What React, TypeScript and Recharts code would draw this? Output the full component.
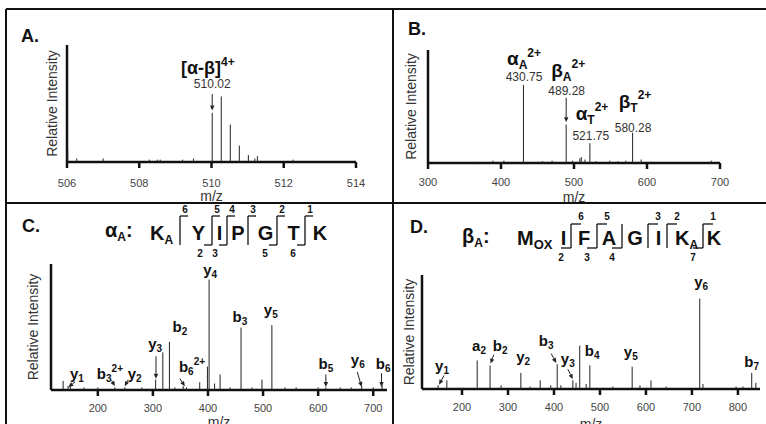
import React from 'react';
import { ComposedChart, Scatter, XAxis, YAxis, ReferenceLine } from 'recharts';

const FONT = '"Liberation Sans", Arial, Helvetica, sans-serif';

// A. precursor isotope envelope
const aMz = [506.02, 506.27, 507.0, 508.28, 508.5, 508.58, 509.2, 509.5, 510.02, 510.27, 510.52, 510.77, 511.02, 511.2, 511.27, 512.26];
const aInt = [10, 3, 3, 2, 2, 2, 2, 3, 42, 56, 32, 14, 6, 3, 5, 2];
const aTicks = [506, 508, 510, 512, 514];

// B. MS3 survey
const bMz = [370, 389, 404, 430.75, 450, 457, 470, 489.28, 498, 508, 510, 515, 521.75, 530, 549, 560, 571, 580.28, 592, 604, 688];
const bInt = [1, 2, 2, 67, 1, 1.5, 2, 33, 2, 4, 5, 3, 17, 1.5, 2, 1.5, 2, 26, 3, 1, 2];
const bTicks = [300, 400, 500, 600, 700];
const bLabelMain = ['α', 'β', 'α', 'β'];
const bLabelSub = ['A', 'A', 'T', 'T'];
const bLabelMz = [431.5, 492, 524.7, 583.6];
const bLabelAt = [84, 74, 37, 47.4];
const bMassText = ['430.75', '489.28', '521.75', '580.28'];
const bMassMz = [431.5, 490, 523, 581];
const bMassAt = [70, 58.6, 20, 26.7];

// C. alpha_A fragments
const cMz = [137, 146, 150, 175, 200, 231, 249, 280, 305, 318, 330, 340, 355, 361, 385, 399, 402, 412, 422, 440, 460, 480, 498, 516, 540, 560, 600, 614, 640, 660, 679, 700, 716];
const cInt = [7, 3, 4, 2, 2, 2, 2, 2, 8, 29, 37, 2, 3, 2, 6, 18, 85, 5, 12, 2, 48, 2, 8, 50, 2, 2, 2, 2, 2, 2, 3, 2, 4];
const cTicks = [200, 300, 400, 500, 600, 700];
const cIon = ['y', 'b', 'y', 'y', 'b', 'b', 'y', 'b', 'y', 'b', 'y', 'b'];
const cIonSub = ['1', '3', '2', '3', '2', '6', '4', '3', '5', '5', '6', '6'];
const cIonSup = ['', '2+', '', '', '', '2+', '', '', '', '', '', ''];
const cIonMz = [162, 222, 267, 304, 349, 371, 404, 458, 514, 614, 672, 718];
const cIonAt = [8.5, 8.5, 8.5, 31.5, 44.6, 14, 88.5, 52, 58, 16, 19, 16];

// D. beta_A fragments
const dMz = [148, 167, 196, 233, 261, 285, 328, 348, 370, 393, 407, 415, 441, 448, 456, 470, 478, 528, 570, 587, 611, 644, 717, 724, 796, 811, 830, 839];
const dInt = [3, 7, 1, 23, 19, 3, 13, 2, 7, 3, 20, 3, 7, 5, 35, 4, 19, 2, 18, 3, 7, 2, 73, 4, 2, 2, 13, 5];
const dTicks = [200, 300, 400, 500, 600, 700, 800];
const dIon = ['y', 'a', 'b', 'y', 'b', 'y', 'b', 'y', 'y', 'b'];
const dIonSub = ['1', '2', '2', '2', '3', '3', '4', '5', '6', '7'];
const dIonMz = [156.5, 237, 283, 333, 383, 430, 483, 567, 720, 830];
const dIonAt = [14.5, 31, 31, 22, 35, 20, 27, 26, 82, 18];

type Peak = { mz: number; i: number };
type Note = { mz: number; i: number; t: string; sub?: string; sup?: string };
type Arrow = [number, number, number, number];

const zip = (mz: number[], it: number[]): Peak[] => mz.map((m, k) => ({ mz: m, i: it[k] }));

const aArrows: Arrow[] = [[510.02, 58, 510.02, 44]];
const bArrows: Arrow[] = [[489.28, 56, 489.28, 35]];
const cArrows: Arrow[] = [
  [158.6, 6.2, 146.5, 2.3],
  [225, 7.4, 231, 3],
  [255, 7.9, 249, 2.8],
  [305.6, 26, 305.6, 8.7],
  [349, 8.7, 358, 2.8],
  [614, 12, 614, 2.3],
  [671, 13.9, 679, 2.3],
  [715, 13, 715, 2.3],
];
const dArrows: Arrow[] = [
  [161, 11, 150, 3.5],
  [269, 27.6, 262, 20.5],
  [394, 28.5, 405, 21],
  [430, 16, 441, 8],
];

const stick = (base: number) => (p: any) =>
  <line x1={p.cx} x2={p.cx} y1={p.cy} y2={base} stroke="#222" strokeWidth={1} />;

const noteShape = (size: number, subSize: number, bold: boolean, color: string) => (p: any) => {
  const d: Note = p.payload ?? p;
  const subDy = size * 0.2;
  const supDy = size * 0.45;
  return (
    <text x={p.cx} y={p.cy} textAnchor="middle" fontFamily={FONT} fontSize={size}
      fontWeight={bold ? 'bold' : 'normal'} fill={color}>
      {d.t}
      {d.sub ? <tspan fontSize={subSize} dy={subDy}>{d.sub}</tspan> : null}
      {d.sup ? <tspan fontSize={subSize} dy={d.sub ? -(subDy + supDy) : -supDy}>{d.sup}</tspan> : null}
    </text>
  );
};

const ArrowShape = (p: any) => {
  const { x1, y1, x2, y2 } = p;
  const ang = Math.atan2(y2 - y1, x2 - x1);
  const L = 5, W = 2.2;
  const bx = x2 - L * Math.cos(ang), by = y2 - L * Math.sin(ang);
  const nx = -Math.sin(ang) * W, ny = Math.cos(ang) * W;
  return (
    <g>
      <line x1={x1} y1={y1} x2={bx} y2={by} stroke="#222" strokeWidth={1} />
      <polygon points={`${x2},${y2} ${bx + nx},${by + ny} ${bx - nx},${by - ny}`} fill="#222" />
    </g>
  );
};

type PanelProps = {
  peaks: Peak[]; ions: Note[]; masses: Note[]; arrows: Arrow[];
  domain: [number, number]; ticks: number[]; yMax: number;
  x0: number; x1: number; y0: number; y1: number; yw: number;
  tickGap: number; titleOffset: number; ionSize: number; ionSub: number;
};

function Spectrum(props: PanelProps) {
  const { peaks, ions, masses, arrows, domain, ticks, yMax, x0, x1, y0, y1, yw, tickGap, titleOffset, ionSize, ionSub } = props;
  const top = 6, xh = 42, right = 24;
  const left = x0 - yw;
  const w = x1 - left + right;
  const h = y1 - y0 + top + xh;
  const base = top + (y1 - y0);
  const axisStyle = { stroke: '#111', strokeWidth: 2.5 };
  return (
    <div style={{ position: 'absolute', left, top: y0 - top }}>
      <ComposedChart width={w} height={h} margin={{ top, right, bottom: 0, left: 0 }}>
        <XAxis type="number" dataKey="mz" domain={domain} ticks={ticks} interval={0}
          height={xh} axisLine={axisStyle} tickLine={axisStyle} tickSize={6} tickMargin={tickGap}
          tick={{ fill: '#444', fontSize: 11, fontFamily: FONT }}
          label={{ value: 'm/z', position: 'insideBottom', offset: titleOffset, fill: '#333', fontSize: 14, fontFamily: FONT }} />
        <YAxis type="number" dataKey="i" domain={[0, yMax]} ticks={[50]} width={yw}
          tick={false} tickSize={6} axisLine={axisStyle} tickLine={axisStyle}
          label={{ value: 'Relative Intensity', angle: -90, position: 'center', fill: '#333', fontSize: 14, fontFamily: FONT }} />
        <Scatter data={peaks} shape={stick(base)} isAnimationActive={false} />
        {arrows.map((a, k) => (
          <ReferenceLine key={k} segment={[{ x: a[0], y: a[1] }, { x: a[2], y: a[3] }]} ifOverflow="visible" shape={ArrowShape} />
        ))}
        <Scatter data={ions} shape={noteShape(ionSize, ionSub, true, '#111')} isAnimationActive={false} />
        <Scatter data={masses} shape={noteShape(12, 12, false, '#333')} isAnimationActive={false} />
      </ComposedChart>
    </div>
  );
}

type Cut = { x: number; y?: string; b?: string };

function Sequence({ residues, cuts, baseline, topY, botY, topNum, botNum, hook, yOff, bOff }: {
  residues: [string, number][]; cuts: Cut[]; baseline: number; topY: number; botY: number;
  topNum: number; botNum: number; hook: number; yOff: number; bOff: number;
}) {
  return (
    <g fontFamily={FONT} fontWeight="bold" fill="#111">
      {residues.map(([r, x], k) => (
        <text key={'r' + k} x={x} y={baseline} fontSize={20} textAnchor="middle">{r}</text>
      ))}
      {cuts.map((c, k) => (
        <g key={'c' + k} stroke="#111" strokeWidth={1.3}>
          <line x1={c.x} x2={c.x} y1={topY} y2={botY} />
          {c.y ? <line x1={c.x} x2={c.x + hook} y1={topY} y2={topY} /> : null}
          {c.b ? <line x1={c.x - hook} x2={c.x} y1={botY} y2={botY} /> : null}
          {c.y ? <text x={c.x + yOff} y={topNum} fontSize={10} textAnchor="middle" stroke="none">{c.y}</text> : null}
          {c.b ? <text x={c.x - bOff} y={botNum} fontSize={10} textAnchor="middle" stroke="none">{c.b}</text> : null}
        </g>
      ))}
    </g>
  );
}

export default function App() {
  const aIons: Note[] = [{ mz: 509.9, i: 75, t: '[α-β]', sup: '4+' }];
  const aMass: Note[] = [{ mz: 510.02, i: 63, t: '510.02' }];
  const bIons: Note[] = bLabelMain.map((t, k) => ({ mz: bLabelMz[k], i: bLabelAt[k], t, sub: bLabelSub[k], sup: '2+' }));
  const bMass: Note[] = bMassText.map((t, k) => ({ mz: bMassMz[k], i: bMassAt[k], t }));
  const cIons: Note[] = cIon.map((t, k) => ({ mz: cIonMz[k], i: cIonAt[k], t, sub: cIonSub[k], sup: cIonSup[k] || undefined }));
  const dIons: Note[] = dIon.map((t, k) => ({ mz: dIonMz[k], i: dIonAt[k], t, sub: dIonSub[k] }));

  return (
    <div style={{ position: 'absolute', left: 0, top: 0, width: 766, height: 424, background: '#fff', overflow: 'hidden' }}>
      <svg width={766} height={424} style={{ position: 'absolute', left: 0, top: 0 }}>
        <g stroke="#111" strokeWidth={2}>
          <line x1={6} x2={766} y1={9} y2={9} />
          <line x1={6} x2={6} y1={9} y2={424} />
          <line x1={6} x2={766} y1={203} y2={203} />
          <line x1={393} x2={393} y1={9} y2={424} />
        </g>
        <g fontFamily={FONT} fontWeight="bold" fontSize={18} fill="#111">
          <text x={21} y={42}>A.</text>
          <text x={408} y={35}>B.</text>
          <text x={22} y={232}>C.</text>
          <text x={410} y={233}>D.</text>
        </g>
        <g fontFamily={FONT} fontWeight="bold" fill="#111" fontSize={20}>
          <text x={105} y={237}>α<tspan fontSize={12} dy={4}>A</tspan><tspan fontSize={20} dy={-4}>:</tspan></text>
          <text x={150} y={240}>K<tspan fontSize={12} dy={4}>A</tspan></text>
          <text x={462} y={243}>β<tspan fontSize={12} dy={4}>A</tspan><tspan fontSize={20} dy={-4}>:</tspan></text>
          <text x={517} y={245}>M<tspan fontSize={13} dy={4}>OX</tspan></text>
          <text x={675} y={245}>K<tspan fontSize={12} dy={4}>A</tspan></text>
        </g>
        <Sequence
          residues={[['Y', 198.5], ['I', 219.5], ['P', 238], ['G', 265.5], ['T', 293.5], ['K', 320]]}
          cuts={[{ x: 180, y: '6' }, { x: 212, y: '5', b: '2' }, { x: 227, y: '4', b: '3' }, { x: 248, y: '3' }, { x: 277, y: '2', b: '5' }, { x: 305, y: '1', b: '6' }]}
          baseline={240} topY={216} botY={245} topNum={213} botNum={257} hook={8} yOff={5} bOff={12} />
        <Sequence
          residues={[['I', 563.5], ['F', 584], ['A', 609], ['G', 635], ['I', 658.5], ['K', 714]]}
          cuts={[{ x: 571, y: '6', b: '2' }, { x: 597, y: '5', b: '3' }, { x: 622, b: '4' }, { x: 648, y: '3' }, { x: 667, y: '2' }, { x: 703, y: '1', b: '7' }]}
          baseline={245} topY={224} botY={248} topNum={220} botNum={261} hook={10} yOff={10} bOff={10} />
      </svg>

      <Spectrum peaks={zip(aMz, aInt)} ions={aIons} masses={aMass} arrows={aArrows}
        domain={[506, 514]} ticks={aTicks} yMax={100} x0={67} x1={356} y0={45} y1={162} yw={30}
        tickGap={11} titleOffset={3} ionSize={18} ionSub={12} />
      <Spectrum peaks={zip(bMz, bInt)} ions={bIons} masses={bMass} arrows={bArrows}
        domain={[300, 700]} ticks={bTicks} yMax={97} x0={428} x1={720} y0={50} y1={163} yw={34}
        tickGap={9} titleOffset={3} ionSize={19} ionSub={12} />
      <Spectrum peaks={zip(cMz, cInt)} ions={cIons} masses={[]} arrows={cArrows}
        domain={[115, 725]} ticks={cTicks} yMax={97} x0={51} x1={387} y0={264} y1={390} yw={36}
        tickGap={8} titleOffset={5} ionSize={15} ionSub={10} />
      <Spectrum peaks={zip(dMz, dInt)} ions={dIons} masses={[]} arrows={dArrows}
        domain={[113, 848]} ticks={dTicks} yMax={92} x0={422} x1={760} y0={275} y1={389} yw={26}
        tickGap={8} titleOffset={2} ionSize={15} ionSub={10} />
    </div>
  );
}
